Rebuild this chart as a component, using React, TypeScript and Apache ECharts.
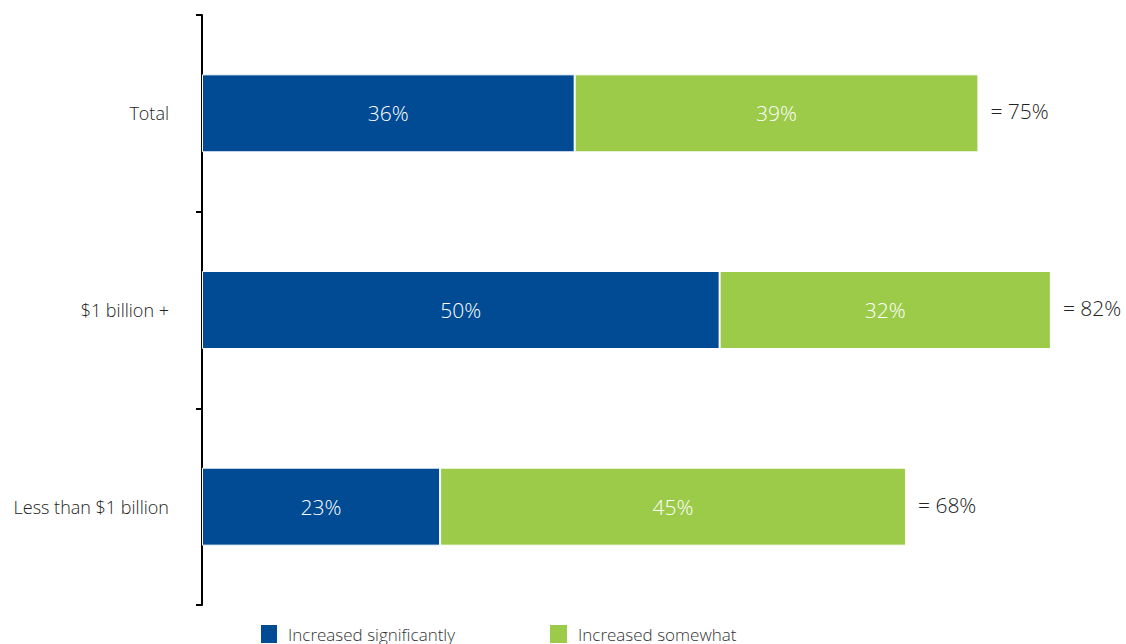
import React, { useEffect, useRef } from "react";
import * as echarts from "echarts";

const categories = ["Total", "$1 billion +", "Less than $1 billion"];
const significantly = [36, 50, 23];
const somewhat = [39, 32, 45];
const totals = [75, 82, 68];
const seriesNames = ["Increased significantly", "Increased somewhat"];

const BLUE = "#004b93";
const GREEN = "#9ccb4a";
const FONT = "'Open Sans', 'Noto Sans', sans-serif";

export default function App() {
  const ref = useRef<HTMLDivElement>(null);
  useEffect(() => {
    if (!ref.current) return;
    const chart = echarts.init(ref.current, undefined, { renderer: "svg" });
    const legendText = {
      fontSize: 17,
      color: "#333",
      fontFamily: FONT,
      fontWeight: 300,
      padding: [0, 0, 0, 5],
    };
    chart.setOption({
      animation: false,
      textStyle: { fontFamily: FONT },
      grid: { left: 202, right: 13, top: 15, bottom: 39 },
      legend: [
        {
          data: [seriesNames[0]],
          left: 259,
          top: 623,
          padding: 0,
          itemWidth: 18,
          itemHeight: 20,
          icon: "rect",
          textStyle: legendText,
        },
        {
          data: [seriesNames[1]],
          left: 548,
          top: 623,
          padding: 0,
          itemWidth: 19,
          itemHeight: 20,
          icon: "rect",
          textStyle: legendText,
        },
      ],
      xAxis: {
        type: "value",
        min: 0,
        max: 88,
        show: false,
      },
      yAxis: {
        type: "category",
        data: categories,
        inverse: true,
        axisLine: { show: true, lineStyle: { color: "#000", width: 2 } },
        axisTick: { show: true, length: 6, lineStyle: { color: "#000", width: 2 } },
        axisLabel: { fontSize: 18, color: "#222", margin: 33, fontFamily: FONT, fontWeight: 300 },
      },
      series: [
        {
          name: seriesNames[0],
          type: "bar",
          stack: "s",
          data: significantly,
          barWidth: 78,
          itemStyle: { color: BLUE, borderColor: "#fff", borderWidth: 1 },
          label: {
            show: true,
            position: "inside",
            formatter: "{c}%",
            color: "#fff",
            fontSize: 21,
            fontWeight: 300,
            fontFamily: FONT,
          },
        },
        {
          name: seriesNames[1],
          type: "bar",
          stack: "s",
          data: somewhat,
          barWidth: 78,
          itemStyle: { color: GREEN, borderColor: "#fff", borderWidth: 1 },
          label: {
            show: true,
            position: "inside",
            formatter: "{c}%",
            color: "#fff",
            fontSize: 21,
            fontWeight: 300,
            fontFamily: FONT,
          },
        },
        {
          name: "total",
          type: "bar",
          stack: "s",
          data: totals.map(() => 0),
          barWidth: 78,
          itemStyle: { color: "transparent" },
          label: {
            show: true,
            position: "right",
            distance: 12,
            offset: [0, -2],
            formatter: (p: any) => "= " + totals[p.dataIndex] + "%",
            color: "#222",
            fontSize: 21,
            fontWeight: 300,
            fontFamily: FONT,
          },
        },
      ],
    });
    return () => chart.dispose();
  }, []);
  return <div ref={ref} style={{ width: 1126, height: 644, position: "absolute", left: 0, top: 0 }} />;
}
